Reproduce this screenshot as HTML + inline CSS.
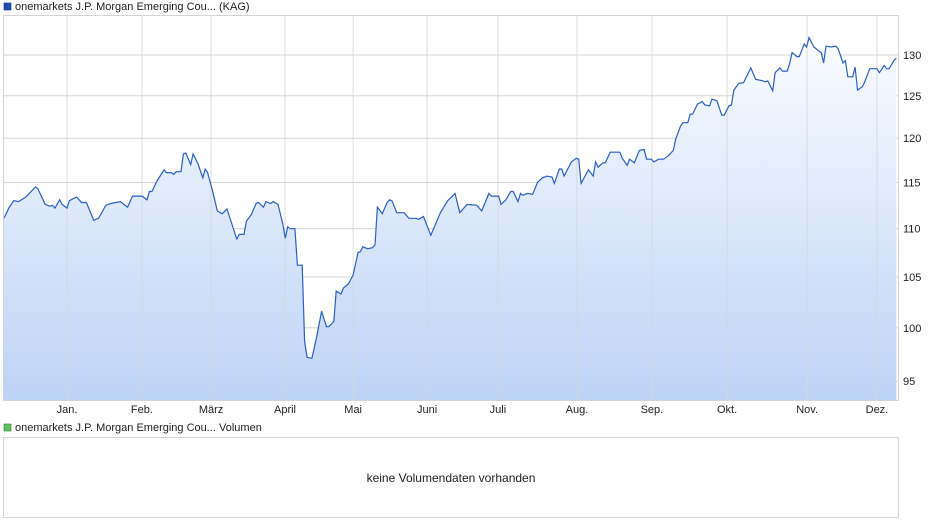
<!DOCTYPE html>
<html><head><meta charset="utf-8"><style>
body{margin:0;background:#fff;font-family:"Liberation Sans",sans-serif;}
svg text{font-family:"Liberation Sans",sans-serif;}
</style></head><body>
<svg id="c" width="940" height="526" viewBox="0 0 940 526" xmlns="http://www.w3.org/2000/svg">
<defs><linearGradient id="g" x1="0" y1="0" x2="0" y2="1">
<stop offset="0" stop-color="#fafcff"/><stop offset="1" stop-color="#bdd3f6"/></linearGradient></defs>
<rect x="4" y="3" width="7" height="7" fill="#1f4fb0" stroke="#13307a" stroke-width="0.6"/>
<text x="15" y="10" font-size="11" fill="#222">onemarkets J.P. Morgan Emerging Cou... (KAG)</text>
<g id="grid"></g>
<path id="area" fill="url(#g)"/>
<g id="vgrid"></g>
<path id="line" fill="none" stroke="#2a5fc5" stroke-width="1.2"/>
<rect x="3.5" y="15.5" width="895" height="385" fill="none" stroke="#d4d4d4"/>
<g id="xl"></g>
<g id="yl"></g>
<rect x="4" y="424" width="7" height="7" fill="#5cc05c" stroke="#2f7a2f" stroke-width="0.6"/>
<text x="15" y="431" font-size="11" fill="#222">onemarkets J.P. Morgan Emerging Cou... Volumen</text>
<rect x="3.5" y="437.5" width="895" height="80" fill="none" stroke="#d4d4d4"/>
<text x="451" y="482" font-size="12" fill="#222" text-anchor="middle">keine Volumendaten vorhanden</text>
</svg>
<script>
const days=[-26,-24,-22,-20,-17,-13,-12,-9,-7,-6,-5,-3,-2,0,1,4,6,8,11,13,16,18,22,25,27,31,33,34,35,37,40,41,43,44,45,47,48,49,51,52,54,56,57,58,60,61,62,64,66,68,70,71,73,74,76,78,79,81,82,84,85,87,89,90,91,92,94,95,97,98,99,101,103,105,107,108,110,111,113,114,116,118,120,121,122,124,126,127,128,130,132,133,134,136,139,141,144,145,147,150,154,157,160,162,165,169,171,174,175,178,179,181,183,184,186,187,188,190,192,194,196,198,200,201,203,204,205,208,210,211,212,215,217,218,219,221,222,224,228,229,231,232,234,236,238,239,241,242,244,246,248,250,251,253,254,256,257,258,260,262,263,265,266,268,270,271,273,274,275,277,279,280,282,284,287,288,289,291,292,294,295,297,298,299,301,302,304,305,306,308,310,311,312,313,315,317,318,320,321,322,324,325,326,328,329,331,334,335,337,338,339,341,342];
const prices=[111.1,112.2,113,112.9,113.4,114.5,114.3,112.6,112.4,112.5,112.2,113.1,112.6,112.2,113,113.4,112.8,112.8,110.9,111.1,112.5,112.7,112.9,112.3,113.5,113.5,113.1,114,114,115.1,116.4,116.1,116.1,115.9,116.2,116.2,118.2,118.3,117,118.2,117.1,115.5,116.5,116.1,114.1,113,111.9,111.6,112.1,110.5,108.9,109.4,109.4,110.8,111.5,112.7,112.8,112.3,112.9,112.7,112.9,112.6,110.5,109,110.2,110,110,106.2,106.2,98.7,97.2,97.1,99.2,101.6,100.1,100.1,100.6,103.6,103.3,103.9,104.3,105.2,107.5,107.6,108.1,107.9,108,108.3,112.3,111.6,112.8,113.1,113,111.7,111.7,111.1,111.1,111,111.3,109.3,111.7,113,113.8,111.7,112.6,112.5,111.9,113.8,113.5,113.5,112.6,113.1,114,114,112.9,113.8,113.6,113.8,113.7,115,115.5,115.7,115.6,114.9,116.5,116.5,115.7,117.3,117.7,117.6,114.9,116.4,115.7,117.3,116.7,117.2,117.2,118.4,118.4,117.7,116.9,117.6,117.2,118.6,118.7,117.6,117.6,117.3,117.6,117.6,118,118.6,119.9,121.4,121.8,121.8,122.8,122.8,124,124.3,123.9,123.8,124.6,124.4,122.7,122.7,123.8,123.9,125.7,126.5,126.6,127.2,128.4,127,126.8,126.7,126.8,125.6,127.8,128.4,128,128,128.9,130.3,129.8,129.8,131.4,131,132.2,131,130.5,130.3,129,131.1,131,131.1,130.8,129,129.3,127.3,127.3,128.5,125.7,126.1,126.7,128.3,128.3,127.8,128.7,128.3,128.3,129.3,129.6];
const yTicks=[95,100,105,110,115,120,125,130];
const monthLabels=["Jan.","Feb.","März","April","Mai","Juni","Juli","Aug.","Sep.","Okt.","Nov.","Dez."];
const monthStarts=[0,30.9,59.4,89.9,118,148.5,177.7,210.3,241.2,272.2,305.2,334];
const NS="http://www.w3.org/2000/svg";
function x(d){return 67+d*2.425;}
function y(v){return 55+(Math.log(130)-Math.log(v))*1039.6;}
function mk(t,a,p){const e=document.createElementNS(NS,t);for(const k in a)e.setAttribute(k,a[k]);p.appendChild(e);return e;}
const grid=document.getElementById('grid'),vg=document.getElementById('vgrid'),yl=document.getElementById('yl'),xl=document.getElementById('xl');
yTicks.forEach(v=>{
 const l=mk('line',{x1:4,x2:898,y1:y(v),y2:y(v),stroke:'#d6d6d6','stroke-width':1},grid);
 
 
 const t=mk('text',{x:903,y:y(v)+4,'font-size':11,fill:'#222'},yl);t.textContent=v;
 
 
});
monthLabels.forEach((m,i)=>{
 const xx=x(monthStarts[i]);
 const l=mk('line',{x1:xx,x2:xx,y1:15,y2:400,stroke:'#d6d6d6','stroke-width':1,'stroke-opacity':0.8},vg);
 
 
 const t=mk('text',{x:xx,y:413,'font-size':11,fill:'#222','text-anchor':'middle'},xl);t.textContent=m;
 
 
});
let d='';days.forEach((dd,i)=>{d+=(i?'L':'M')+x(dd).toFixed(1)+','+y(prices[i]).toFixed(1);});
document.getElementById('line').setAttribute('d',d);
document.getElementById('area').setAttribute('d',d+'L'+x(days[days.length-1]).toFixed(1)+',400L'+x(days[0]).toFixed(1)+',400Z');
</script>
</body></html>
